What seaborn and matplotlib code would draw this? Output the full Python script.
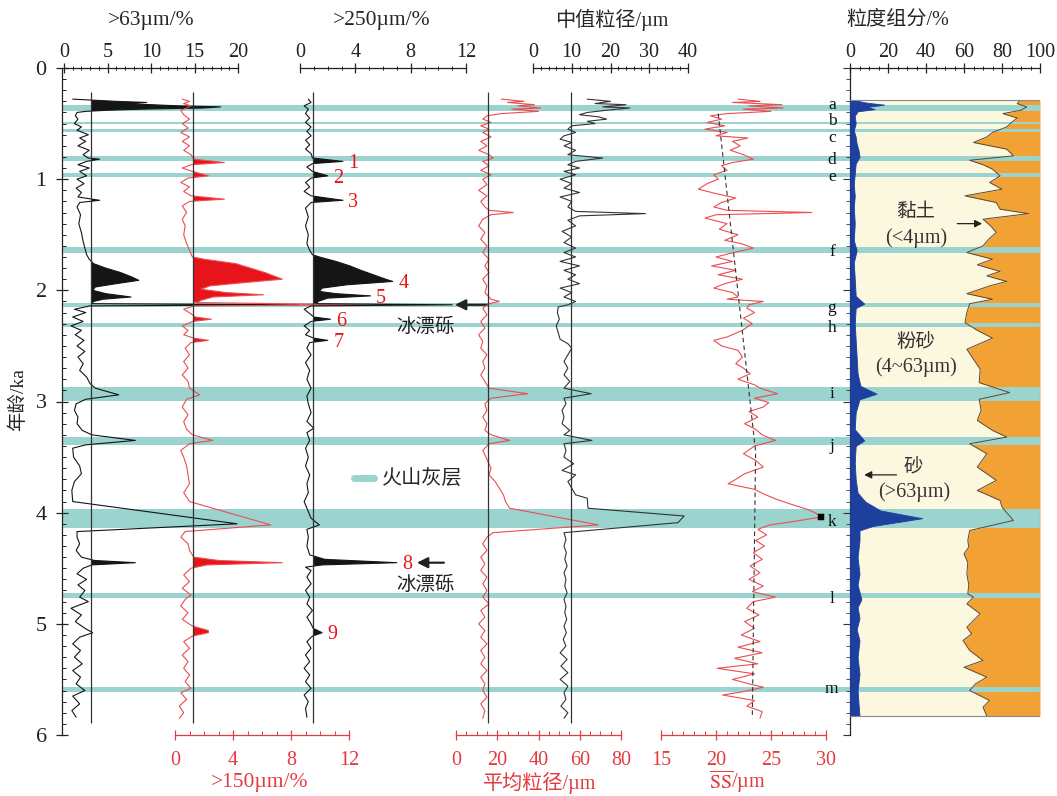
import numpy as np
import matplotlib
matplotlib.use('Agg')
import matplotlib.pyplot as plt
from matplotlib.ticker import MultipleLocator
from matplotlib.lines import Line2D
import seaborn as sns

sns.set_style('white')
plt.rcParams['font.family'] = ['Liberation Serif', 'Noto Sans CJK SC', 'DejaVu Sans']
plt.rcParams['mathtext.fontset'] = 'stix'

# ---------------- tephra layers ----------------
tephra_names = list('abcdefghijklm')
tephra_top = [0.333, 0.483, 0.551, 0.790, 0.947, 1.607, 2.117, 2.296, 2.867, 3.322, 3.970, 4.725, 5.565]
tephra_bot = [0.387, 0.506, 0.575, 0.834, 0.977, 1.667, 2.152, 2.326, 2.993, 3.394, 4.135, 4.770, 5.610]
tephra_label_shift = [-0.03, -0.015, 0.067, 0.02, 0.02, 0.02, 0.02, 0.03, 0.0, 0.04, 0.03, 0.03, 0.0]

# ---------------- IRD events ----------------
ird_windows = [(0.27, 0.41), (0.78, 0.90), (0.93, 1.00), (1.14, 1.23), (1.66, 2.125),
               (2.22, 2.30), (2.40, 2.50), (4.38, 4.52), (5.02, 5.14)]
ird_labels = ['1', '2', '3', '4', '5', '6', '7', '8', '9']
ird_ages = [0.84, 0.97, 1.19, 1.92, 2.05, 2.26, 2.45, 4.45, 5.08]

# ---------------- >63 um (%) ----------------
p63_age = [0.28, 0.29, 0.30, 0.31, 0.32, 0.33, 0.34, 0.35, 0.36, 0.37, 0.38, 0.39, 0.40,
           0.43, 0.46, 0.50, 0.53, 0.56, 0.60, 0.63, 0.66, 0.70, 0.74, 0.78, 0.81, 0.82, 0.84,
           0.87, 0.90, 0.93, 0.97, 1.00, 1.04, 1.08, 1.12, 1.16, 1.19, 1.21, 1.25, 1.32, 1.40,
           1.48, 1.56, 1.62, 1.68, 1.72, 1.76, 1.80, 1.84, 1.88, 1.91, 1.94, 1.97, 2.00, 2.03,
           2.06, 2.08, 2.10, 2.12, 2.13, 2.14, 2.17, 2.20, 2.24, 2.28, 2.32, 2.36, 2.40, 2.45,
           2.50, 2.55, 2.60, 2.66, 2.72, 2.78, 2.84, 2.88, 2.94, 2.98, 3.02, 3.08, 3.14, 3.20,
           3.26, 3.30, 3.35, 3.39, 3.42, 3.50, 3.58, 3.65, 3.72, 3.80, 3.90, 4.10, 4.17, 4.22,
           4.28, 4.34, 4.40, 4.43, 4.45, 4.47, 4.50, 4.55, 4.60, 4.65, 4.70, 4.76, 4.80, 4.86,
           4.92, 4.98, 5.04, 5.08, 5.12, 5.18, 5.24, 5.30, 5.36, 5.42, 5.48, 5.54, 5.60, 5.65,
           5.72, 5.78, 5.84]
p63_val = [1.0, 3.5, 6.0, 9.5, 7.0, 10.0, 13.0, 18.0, 16.0, 9.0, 5.0, 2.5, 1.5,
           1.3, 1.6, 1.2, 2.0, 1.5, 2.8, 1.8, 2.5, 1.6, 2.9, 2.2, 2.8, 4.1, 2.6,
           1.6, 2.9, 1.8, 2.6, 1.5, 2.3, 1.4, 2.0, 1.6, 4.1, 1.8, 1.5, 1.9, 1.7,
           2.0, 2.2, 2.4, 2.6, 2.9, 3.4, 4.8, 6.5, 7.8, 8.6, 6.0, 3.6, 3.3, 4.8,
           7.7, 4.5, 3.4, 3.2, 27.0, 3.0, 1.2, 2.5, 1.0, 2.2, 0.8, 2.0, 1.3, 2.3,
           1.5, 2.4, 1.6, 2.2, 1.8, 2.6, 3.0, 3.6, 6.3, 2.5, 1.4, 1.2, 1.6, 1.5,
           2.1, 3.2, 8.2, 2.5, 1.0, 1.1, 1.8, 2.0, 1.2, 0.9, 1.0, 19.9, 1.5, 1.5,
           1.8, 1.4, 2.0, 3.5, 8.2, 3.2, 2.2, 1.5, 2.6, 1.6, 2.4, 1.8, 2.8, 0.8,
           2.0, 1.3, 2.4, 3.3, 1.8, 1.0, 1.9, 1.2, 2.1, 1.0, 1.9, 1.4, 2.4, 1.0,
           1.8, 0.9, 1.4]
p63_base = 3.1

# ---------------- >150 um (%) ----------------
p150_age = [0.28, 0.30, 0.32, 0.34, 0.36, 0.38, 0.42, 0.46, 0.50, 0.54, 0.58, 0.62, 0.66, 0.70,
            0.74, 0.78, 0.82, 0.85, 0.87, 0.90, 0.93, 0.97, 0.99, 1.03, 1.07, 1.11, 1.15, 1.18,
            1.20, 1.24, 1.30, 1.36, 1.42, 1.50, 1.58, 1.64, 1.70, 1.72, 1.76, 1.80, 1.84, 1.88,
            1.90, 1.93, 1.96, 1.99, 2.02, 2.04, 2.06, 2.09, 2.11, 2.13, 2.14, 2.17, 2.21, 2.24,
            2.26, 2.28, 2.32, 2.36, 2.40, 2.43, 2.45, 2.47, 2.52, 2.58, 2.64, 2.70, 2.76, 2.82,
            2.88, 2.94, 2.98, 3.05, 3.12, 3.18, 3.25, 3.30, 3.35, 3.38, 3.44, 3.50, 3.58, 3.66,
            3.74, 3.82, 3.90, 4.11, 4.17, 4.22, 4.28, 4.34, 4.40, 4.43, 4.45, 4.47, 4.50, 4.56,
            4.62, 4.68, 4.74, 4.78, 4.84, 4.90, 4.96, 5.02, 5.06, 5.08, 5.11, 5.16, 5.22, 5.28,
            5.34, 5.40, 5.46, 5.52, 5.58, 5.62, 5.68, 5.74, 5.80, 5.85]
p150_val = [0.5, 1.0, 0.6, 1.1, 0.8, 0.4, 0.6, 1.0, 0.5, 0.9, 0.4, 1.0, 0.5, 1.0,
            0.6, 1.1, 1.3, 3.4, 1.1, 0.5, 1.2, 2.3, 0.9, 0.4, 1.0, 0.6, 1.1, 3.4,
            1.0, 0.5, 0.8, 0.5, 0.7, 0.6, 0.8, 1.0, 1.2, 2.0, 4.2, 5.2, 6.2, 7.0,
            7.4, 4.8, 2.4, 1.8, 3.5, 6.1, 2.6, 1.8, 1.5, 13.0, 1.3, 0.6, 1.1, 1.4,
            2.5, 1.2, 0.5, 0.9, 0.6, 1.3, 2.3, 1.1, 0.7, 1.0, 0.6, 0.9, 0.5, 0.9,
            1.0, 1.7, 0.8, 0.5, 0.9, 0.6, 0.8, 1.2, 2.6, 1.0, 0.4, 0.6, 0.8, 0.9,
            1.0, 0.6, 1.0, 6.6, 0.7, 0.4, 0.9, 1.0, 1.3, 3.0, 7.4, 2.2, 1.1, 0.6,
            1.0, 0.5, 1.1, 0.7, 0.4, 0.9, 0.5, 1.2, 2.3, 2.3, 1.2, 0.6, 1.0, 0.5,
            0.9, 0.6, 1.0, 0.7, 1.1, 0.4, 0.8, 0.3, 0.6, 0.3]
p150_base = 1.24

# ---------------- >250 um (%) ----------------
p250_age = [0.28, 0.31, 0.34, 0.37, 0.41, 0.45, 0.49, 0.53, 0.57, 0.61, 0.65, 0.69, 0.73, 0.77,
            0.81, 0.84, 0.86, 0.89, 0.93, 0.97, 0.99, 1.03, 1.07, 1.11, 1.15, 1.19, 1.21, 1.26,
            1.34, 1.42, 1.50, 1.58, 1.64, 1.68, 1.70, 1.74, 1.78, 1.82, 1.86, 1.90, 1.92, 1.95,
            1.98, 2.01, 2.03, 2.05, 2.07, 2.10, 2.12, 2.13, 2.14, 2.17, 2.21, 2.24, 2.26, 2.28,
            2.32, 2.36, 2.40, 2.43, 2.45, 2.47, 2.52, 2.58, 2.65, 2.72, 2.80, 2.88, 2.95, 3.02,
            3.10, 3.18, 3.24, 3.28, 3.35, 3.42, 3.50, 3.58, 3.66, 3.74, 3.82, 3.90, 3.96, 4.05,
            4.11, 4.15, 4.22, 4.30, 4.38, 4.42, 4.45, 4.47, 4.49, 4.52, 4.58, 4.64, 4.70, 4.76,
            4.82, 4.88, 4.94, 5.00, 5.04, 5.08, 5.11, 5.16, 5.22, 5.28, 5.34, 5.40, 5.46, 5.52,
            5.58, 5.64, 5.70, 5.76, 5.84]
p250_val = [0.6, 0.8, 0.3, 0.6, 0.4, 0.7, 0.4, 0.8, 0.5, 0.8, 0.4, 0.7, 0.4, 0.8,
            0.9, 3.1, 0.9, 0.5, 0.9, 2.0, 0.8, 0.4, 0.7, 0.3, 0.8, 3.1, 0.8, 0.4,
            0.6, 0.4, 0.6, 0.5, 0.7, 0.9, 1.4, 2.6, 3.6, 4.4, 5.3, 6.2, 6.7, 3.4,
            1.6, 1.4, 2.6, 5.1, 2.0, 1.3, 1.2, 11.0, 0.8, 0.3, 0.7, 1.0, 2.2, 0.8,
            0.3, 0.7, 0.4, 1.0, 2.0, 0.7, 0.5, 0.8, 0.4, 0.7, 0.5, 0.8, 0.5, 0.6,
            0.8, 0.5, 1.0, 0.5, 0.7, 0.4, 0.6, 0.4, 0.7, 0.5, 0.6, 0.3, 0.5, 0.8,
            1.4, 0.5, 0.6, 0.5, 0.7, 1.8, 7.0, 1.6, 0.4, 0.8, 0.5, 0.8, 0.4, 0.7,
            0.5, 0.9, 0.5, 0.8, 0.95, 1.6, 0.9, 0.5, 0.8, 0.4, 0.7, 0.3, 0.7, 0.4,
            0.8, 0.3, 0.6, 0.4, 0.5]
p250_base = 0.94

# ---------------- mean grain size (um) ----------------
mean_age = [0.28, 0.30, 0.31, 0.33, 0.34, 0.36, 0.37, 0.39, 0.41, 0.43, 0.46, 0.49, 0.52, 0.55,
            0.58, 0.62, 0.66, 0.70, 0.74, 0.78, 0.81, 0.84, 0.88, 0.92, 0.96, 1.00, 1.05, 1.10,
            1.15, 1.20, 1.25, 1.28, 1.30, 1.32, 1.36, 1.42, 1.48, 1.54, 1.60, 1.66, 1.72, 1.78,
            1.84, 1.90, 1.96, 2.02, 2.08, 2.10, 2.12, 2.16, 2.22, 2.28, 2.34, 2.40, 2.46, 2.52,
            2.58, 2.64, 2.70, 2.76, 2.82, 2.88, 2.93, 2.97, 3.02, 3.08, 3.14, 3.20, 3.26, 3.30,
            3.35, 3.38, 3.44, 3.52, 3.60, 3.66, 3.72, 3.78, 3.84, 3.90, 3.96, 4.11, 4.18, 4.22,
            4.28, 4.34, 4.40, 4.46, 4.52, 4.58, 4.64, 4.70, 4.76, 4.82, 4.88, 4.94, 5.00, 5.06,
            5.12, 5.18, 5.24, 5.30, 5.36, 5.42, 5.48, 5.54, 5.60, 5.66, 5.72, 5.78, 5.85]
mean_val = [22, 33, 25, 38, 30, 41, 27, 40, 22, 15, 13, 17, 12, 16,
            13, 17, 12, 15, 11, 16, 18, 13, 16, 12, 17, 13, 15, 11,
            15, 12, 14, 16, 27.7, 17, 13, 11, 14, 12, 15, 13, 16, 14,
            16, 13, 15, 14, 17, 21, 16, 13, 15, 12, 14, 11, 13, 12,
            15, 13, 14, 12, 14, 16, 34.8, 17, 14, 15, 13, 15, 14, 17,
            26, 16, 13, 15, 17, 16, 19, 21, 23, 24, 26, 69, 18, 15,
            13, 15, 12, 14, 12, 15, 13, 15, 13, 16, 12, 14, 11, 14,
            12, 15, 12, 14, 12, 15, 12, 14, 13, 15, 12, 14, 13]
mean_base = 15.5

# ---------------- median grain size (um) ----------------
med_age = [0.28, 0.30, 0.32, 0.33, 0.35, 0.36, 0.38, 0.40, 0.42, 0.44, 0.46, 0.48, 0.50, 0.52,
           0.55, 0.58, 0.61, 0.64, 0.67, 0.70, 0.74, 0.78, 0.81, 0.84, 0.87, 0.90, 0.93, 0.96,
           1.00, 1.04, 1.08, 1.12, 1.16, 1.20, 1.25, 1.29, 1.31, 1.33, 1.37, 1.42, 1.47, 1.52,
           1.57, 1.62, 1.66, 1.70, 1.74, 1.78, 1.82, 1.86, 1.90, 1.94, 1.98, 2.02, 2.06, 2.10,
           2.13, 2.15, 2.20, 2.26, 2.32, 2.38, 2.44, 2.48, 2.52, 2.58, 2.64, 2.70, 2.76, 2.82,
           2.88, 2.93, 2.97, 3.02, 3.08, 3.14, 3.20, 3.26, 3.30, 3.35, 3.38, 3.44, 3.50, 3.56,
           3.62, 3.66, 3.72, 3.78, 3.84, 3.87, 3.96, 4.03, 4.09, 4.18, 4.24, 4.30, 4.36, 4.42,
           4.48, 4.54, 4.60, 4.66, 4.72, 4.78, 4.84, 4.90, 4.96, 5.02, 5.08, 5.14, 5.20, 5.26,
           5.32, 5.38, 5.44, 5.50, 5.56, 5.62, 5.68, 5.74, 5.80, 5.85]
med_val = [14, 20, 16, 24, 18, 25, 19, 14, 12, 17, 19, 14, 16, 10,
           9, 11, 8, 7, 10, 8, 11, 9, 18, 11, 9, 12, 8, 11,
           7, 10, 8, 12, 7, 10, 9, 11, 29, 12, 9, 11, 7.5, 10,
           8, 11, 8, 11, 7, 12, 8, 11, 9, 12, 7, 10, 8, 11,
           9, 6.5, 6.3, 6.8, 6.0, 6.5, 7, 9, 10, 9, 8, 9, 8, 9.5,
           8, 15, 8, 8.5, 7.5, 8, 7.5, 9.5, 8, 15.2, 8, 8.5, 8, 10.5,
           7.5, 11, 9, 10, 11, 14, 14.2, 39, 37.4, 8, 8.5, 8, 8.6, 8.2,
           8.8, 8.0, 8.5, 8.2, 8.8, 8.0, 8.5, 8.2, 8.7, 8.0, 8.6, 7.8, 8.5, 7.0,
           8.8, 7.2, 9.0, 7.0, 9.0, 8.0, 8.5, 7.2, 9.0, 8.0]
med_base = 9.8

# ---------------- sortable silt mean SS (um) ----------------
ss_age = [0.28, 0.30, 0.31, 0.33, 0.34, 0.36, 0.37, 0.39, 0.41, 0.43, 0.46, 0.49, 0.52, 0.55,
          0.58, 0.61, 0.63, 0.66, 0.70, 0.74, 0.78, 0.82, 0.85, 0.88, 0.92, 0.96, 1.00, 1.04,
          1.09, 1.13, 1.17, 1.21, 1.25, 1.28, 1.30, 1.32, 1.35, 1.40, 1.45, 1.50, 1.55, 1.58,
          1.62, 1.66, 1.70, 1.74, 1.78, 1.82, 1.86, 1.90, 1.94, 1.98, 2.02, 2.06, 2.08, 2.10,
          2.13, 2.16, 2.20, 2.25, 2.30, 2.36, 2.42, 2.45, 2.50, 2.54, 2.60, 2.66, 2.70, 2.75,
          2.80, 2.85, 2.88, 2.93, 2.97, 3.01, 3.05, 3.09, 3.14, 3.20, 3.25, 3.30, 3.35, 3.40,
          3.47, 3.53, 3.59, 3.65, 3.70, 3.74, 3.79, 3.83, 3.88, 3.93, 3.97, 4.01, 4.04, 4.08,
          4.11, 4.15, 4.20, 4.25, 4.30, 4.36, 4.42, 4.48, 4.54, 4.60, 4.66, 4.71, 4.76, 4.80,
          4.86, 4.92, 4.98, 5.04, 5.10, 5.16, 5.21, 5.26, 5.31, 5.36, 5.40, 5.45, 5.50, 5.54,
          5.57, 5.61, 5.64, 5.69, 5.74, 5.79, 5.85]
ss_val = [22, 24, 21.5, 26, 23, 26.1, 22.5, 25, 21, 19.5, 20.5, 19.2, 20.8, 19.0,
          21, 20, 22.9, 21.5, 22.2, 21.3, 22.5, 23.4, 21.5, 20.5, 21, 19.8, 20.2, 19.2,
          18.4, 20, 21.8, 20.5, 19.8, 21, 28.7, 20, 19.0, 21.0, 20.3, 22.0, 20.8, 22.3,
          23.4, 21.6, 20.0, 21.5, 19.6, 21.8, 20.2, 22.4, 20.8, 19.8, 21.5, 22.0, 21.0, 24.3,
          23.0, 22.8, 23.5, 22.5, 23.3, 22.4, 21.0, 19.8, 20.5, 22.0, 22.4, 21.8, 22.5, 23.1,
          22.0, 23.5, 24.0, 25.6, 23.5, 24.8, 24.3, 23.0, 23.8, 22.6, 23.6, 24.2, 25.4, 23.5,
          22.5, 23.6, 24.3, 22.6, 21.8, 21.1, 23.5, 24.3, 25.5, 27.0, 28.3, 29.2, 29.5, 27.0,
          24.9, 23.8, 24.6, 23.6, 24.4, 23.4, 24.2, 23.1, 24.0, 23.0, 24.3, 23.3, 25.4, 23.4,
          22.8, 23.9, 22.6, 23.5, 22.3, 24.0, 22.0, 24.2, 21.7, 23.8, 20.1, 23.5, 21.5, 23.0,
          24.3, 22.5, 20.6, 23.5, 22.8, 24.2, 24.0]
ss_trend_age = [0.41, 3.45, 5.85]
ss_trend_val = [20.2, 23.6, 23.3]
ss_mark_age = [4.04]
ss_mark_val = [29.5]

# ---------------- grain-size components (%) ----------------
comp_age = [0.29, 0.32, 0.35, 0.38, 0.41, 0.45, 0.49, 0.53, 0.58, 0.62, 0.67, 0.73, 0.79, 0.83,
            0.87, 0.91, 0.97, 1.03, 1.09, 1.15, 1.21, 1.27, 1.31, 1.36, 1.42, 1.48, 1.54, 1.60,
            1.66, 1.72, 1.77, 1.83, 1.87, 1.92, 1.96, 2.03, 2.08, 2.12, 2.20, 2.29, 2.36, 2.43,
            2.53, 2.62, 2.71, 2.83, 2.92, 2.98, 3.08, 3.17, 3.26, 3.32, 3.38, 3.47, 3.59, 3.71,
            3.80, 3.89, 3.95, 4.07, 4.16, 4.25, 4.31, 4.37, 4.45, 4.55, 4.65, 4.73, 4.76, 4.82,
            4.91, 5.03, 5.09, 5.15, 5.24, 5.33, 5.39, 5.48, 5.54, 5.60, 5.69, 5.75, 5.83]
clay_pct = [10.5, 12, 7, 10, 19.5, 12, 15, 17.5, 25, 28, 35, 17.5, 14, 37,
            30, 25, 21, 26.5, 20, 39.5, 23, 21, 6, 30, 26, 23, 27, 30,
            38.5, 25, 33, 21, 28, 17.5, 26.5, 38.5, 25, 37, 38.5, 39.5, 33, 25,
            38.5, 35, 31.5, 32, 16, 32, 31, 33, 25, 17.5, 37, 28, 33, 23,
            33, 21, 20, 14, 37, 38, 37.5, 40, 38, 38.5, 37.5, 38, 35, 38.5,
            31.5, 38.5, 36, 40.5, 37, 30, 40, 28, 34, 37, 26.5, 30, 28]
sand_age = [0.29, 0.31, 0.33, 0.35, 0.37, 0.39, 0.43, 0.50, 0.56, 0.62, 0.68, 0.74, 0.80, 0.86,
            0.95, 1.05, 1.15, 1.25, 1.40, 1.55, 1.64, 1.75, 1.90, 2.05, 2.12, 2.16, 2.30, 2.45,
            2.60, 2.75, 2.86, 2.93, 2.98, 3.10, 3.25, 3.35, 3.40, 3.55, 3.70, 3.82, 3.90, 3.98,
            4.05, 4.12, 4.16, 4.25, 4.40, 4.55, 4.65, 4.78, 4.85, 4.95, 5.05, 5.15, 5.30, 5.45,
            5.60, 5.72, 5.83]
sand_pct = [3, 8, 18, 9, 13, 4, 2.5, 3, 2, 3, 3.5, 4.5, 5, 3,
            2.5, 2, 2.5, 2, 2.5, 2, 3.5, 2, 2.5, 3, 7.5, 3, 2.5, 3,
            3.5, 4, 5.5, 14, 5, 3, 2.5, 7.5, 3, 2.5, 3, 4, 8, 16,
            38, 12, 5, 5, 4, 5, 4, 6, 4, 5, 3.5, 5, 4, 5,
            4, 4.5, 5]

# ---------------- styling ----------------
TEAL = '#9bd3ce'
RED_FILL = '#e8141b'
RED_LINE = '#ec4d52'
RED_AX = '#e33b3f'
BLACK = '#151515'
CREAM = '#fcf7df'
ORANGE = '#f2a235'
BLUE = '#1d3f9e'
FS_TICK = 14.5
FS_TITLE = 15.5

W, H = 1057, 796
Y0, Y6 = 68, 735
fig = plt.figure(figsize=(W / 100, H / 100), dpi=100)


def fx(px):
    return px / W


def fy(py):
    return 1 - py / H


def new_axes(l, r, xlim):
    ax = fig.add_axes([fx(l), fy(Y6), (r - l) / W, (Y6 - Y0) / H])
    ax.set_xlim(*xlim)
    ax.set_ylim(6, 0)
    ax.patch.set_alpha(0)
    for s in ax.spines.values():
        s.set_visible(False)
    ax.set_yticks([])
    ax.tick_params(axis='y', left=False, right=False, labelleft=False)
    return ax


def style_top(ax, major, minor):
    ax.spines['top'].set_visible(True)
    ax.spines['top'].set_color('#222222')
    ax.spines['top'].set_linewidth(0.9)
    ax.xaxis.set_major_locator(MultipleLocator(major))
    ax.xaxis.set_minor_locator(MultipleLocator(minor))
    ax.tick_params(axis='x', which='both', top=True, labeltop=True, bottom=False, labelbottom=False)
    ax.tick_params(axis='x', which='major', direction='inout', length=7, width=0.9,
                   labelsize=FS_TICK, pad=1, colors='#222222')
    ax.tick_params(axis='x', which='minor', direction='inout', length=3, width=0.7, colors='#222222')


def style_bottom(ax, major, minor):
    ax.spines['bottom'].set_visible(True)
    ax.spines['bottom'].set_color(RED_AX)
    ax.spines['bottom'].set_linewidth(0.9)
    ax.xaxis.set_major_locator(MultipleLocator(major))
    ax.xaxis.set_minor_locator(MultipleLocator(minor))
    ax.tick_params(axis='x', which='both', bottom=True, labelbottom=True, top=False, labeltop=False)
    ax.tick_params(axis='x', which='major', direction='inout', length=7, width=0.9,
                   labelsize=FS_TICK, pad=8, colors=RED_AX)
    ax.tick_params(axis='x', which='minor', direction='in', length=3, width=0.7, colors=RED_AX)


def ird_mask(ages):
    a = np.asarray(ages)
    m = np.zeros(a.shape, bool)
    for lo, hi in ird_windows:
        m |= (a >= lo) & (a <= hi)
    return m


def curve(ax, ages, vals, color, lw=0.8, ls='-'):
    sns.lineplot(x=vals, y=ages, orient='y', sort=False, estimator=None, color=color,
                 lw=lw, ls=ls, ax=ax, clip_on=False)
    ax.set_xlabel('')
    ax.set_ylabel('')


def ird_fill(ax, ages, vals, base, color):
    a = np.asarray(ages)
    v = np.asarray(vals)
    ax.fill_betweenx(a, base, v, where=(v > base) & ird_mask(a), interpolate=True,
                     color=color, lw=0, clip_on=False)


# background axis with age scale and tephra bands
ax_bg = new_axes(62, 850, (0, 1))
for t, b in zip(tephra_top, tephra_bot):
    ax_bg.axhspan(t, b, color=TEAL, lw=0, zorder=0)
ax_bg.spines['left'].set_visible(True)
ax_bg.spines['left'].set_color('#222222')
ax_bg.spines['left'].set_linewidth(0.9)
ax_bg.yaxis.set_major_locator(MultipleLocator(1))
ax_bg.yaxis.set_minor_locator(MultipleLocator(0.1))
ax_bg.tick_params(axis='y', which='both', left=True, labelleft=True)
ax_bg.tick_params(axis='y', which='major', direction='inout', length=8, width=0.9,
                  labelsize=16, pad=7, colors='#222222')
ax_bg.tick_params(axis='y', which='minor', direction='in', length=3, width=0.7, colors='#222222')
ax_bg.set_xticks([])
for name, t, b, sh in zip(tephra_names, tephra_top, tephra_bot, tephra_label_shift):
    ax_bg.text(0.977, (t + b) / 2 + sh, name, transform=ax_bg.get_yaxis_transform(),
               ha='center', va='center', fontsize=12.5, color='#111111')

# >63 um
ax63 = new_axes(64, 238, (0, 20))
style_top(ax63, 5, 1)
ird_fill(ax63, p63_age, p63_val, p63_base, BLACK)
curve(ax63, p63_age, p63_val, BLACK)
ax63.vlines(p63_base, 0.22, 5.89, color='#333333', lw=0.9)

# >150 um
ax150 = new_axes(175, 349, (0, 12))
style_bottom(ax150, 4, 1)
ird_fill(ax150, p150_age, p150_val, p150_base, RED_FILL)
curve(ax150, p150_age, p150_val, RED_LINE)
ax150.vlines(p150_base, 0.22, 5.89, color='#333333', lw=0.9)

# >250 um
ax250 = new_axes(300, 466, (0, 12))
style_top(ax250, 4, 1)
ird_fill(ax250, p250_age, p250_val, p250_base, BLACK)
curve(ax250, p250_age, p250_val, BLACK)
ax250.vlines(p250_base, 0.22, 5.89, color='#333333', lw=0.9)
for lab, a in zip(ird_labels, ird_ages):
    pk = p250_val[p250_age.index(a)]
    ax250.text(pk + 0.4, a + 0.02, lab, color=RED_FILL, fontsize=14.5, ha='left', va='center')

# mean grain size
axmean = new_axes(456, 621, (0, 80))
style_bottom(axmean, 20, 5)
curve(axmean, mean_age, mean_val, RED_LINE)
axmean.vlines(mean_base, 0.22, 5.89, color='#333333', lw=0.9)

# median grain size
axmed = new_axes(533, 688, (0, 40))
style_top(axmed, 10, 2)
curve(axmed, med_age, med_val, '#333333')
axmed.vlines(med_base, 0.22, 5.89, color='#333333', lw=0.9)

# SS
axss = new_axes(661, 826, (15, 30))
style_bottom(axss, 5, 1)
curve(axss, ss_age, ss_val, RED_LINE)
curve(axss, ss_trend_age, ss_trend_val, '#333333', lw=0.8, ls=(0, (4, 3)))
sns.scatterplot(x=ss_mark_val, y=ss_mark_age, marker='s', s=18, color='black',
                edgecolor='black', ax=axss, clip_on=False, zorder=5)
axss.set_xlabel('')
axss.set_ylabel('')
axss.set_xlim(15, 30)
axss.set_ylim(6, 0)

# grain-size composition
axc = new_axes(850, 1040, (0, 100))
style_top(axc, 20, 5)
comp_a = np.asarray(comp_age)
boundary = 100 - np.asarray(clay_pct)
axc.fill_betweenx(comp_a, 0, boundary, color=CREAM, lw=0, zorder=1)
axc.fill_betweenx(comp_a, boundary, 100, color=ORANGE, lw=0, zorder=1)
for t, b in zip(tephra_top, tephra_bot):
    axc.axhspan(t, b, color=TEAL, lw=0, zorder=2)
axc.fill_betweenx(np.asarray(sand_age), 0, np.asarray(sand_pct), color=BLUE, lw=0.6,
                  edgecolor=BLUE, zorder=3)
axc.plot(boundary, comp_a, color='#5b4a32', lw=0.7, zorder=4)
axc.hlines([comp_age[0], comp_age[-1]], 0, 100, color='#8a8a8a', lw=0.8, zorder=4)
axc.vlines(100, comp_age[0], comp_age[-1], color='#8a8a8a', lw=0.8, zorder=4)
axc.spines['left'].set_visible(True)
axc.spines['left'].set_color('#222222')
axc.spines['left'].set_linewidth(0.9)
axc.yaxis.set_major_locator(MultipleLocator(1))
axc.yaxis.set_minor_locator(MultipleLocator(0.1))
axc.tick_params(axis='y', which='both', left=True, labelleft=False, direction='out', colors='#333333')
axc.tick_params(axis='y', which='major', length=5, width=0.8)
axc.tick_params(axis='y', which='minor', length=3, width=0.6)
for ax in (ax63, ax150, ax250, axmean, axmed, axc):
    ax.set_ylim(6, 0)

# axis titles
fig.text(fx(151), fy(20), '>63µm/%', ha='center', va='center', fontsize=FS_TITLE)
fig.text(fx(382), fy(20), '>250µm/%', ha='center', va='center', fontsize=FS_TITLE)
fig.text(fx(612), fy(20), '中值粒径/µm', ha='center', va='center', fontsize=FS_TITLE - 1)
fig.text(fx(898), fy(20), '粒度组分/%', ha='center', va='center', fontsize=FS_TITLE - 1)
fig.text(fx(260), fy(783), '>150µm/%', ha='center', va='center', fontsize=FS_TITLE, color=RED_AX)
fig.text(fx(540), fy(783), '平均粒径/µm', ha='center', va='center', fontsize=FS_TITLE - 1, color=RED_AX)
fig.text(fx(737), fy(782), r'$\overline{\mathrm{SS}}$/µm', ha='center', va='center',
         fontsize=FS_TITLE - 1, color=RED_AX)
fig.text(fx(18), fy(400), '年龄/ka', ha='center', va='center', rotation=90, fontsize=14)

# IRD arrows and labels
ax250.annotate('', xy=(11.0, 2.13), xytext=(13.8, 2.13),
               arrowprops=dict(arrowstyle='-|>', color='#222222', lw=1.6, mutation_scale=16),
               annotation_clip=False)
fig.text(fx(425), fy(327), '冰漂砾', ha='center', va='center', fontsize=14, color='#222222')
ax250.annotate('', xy=(8.25, 4.45), xytext=(10.6, 4.45),
               arrowprops=dict(arrowstyle='-|>', color='#222222', lw=1.6, mutation_scale=16),
               annotation_clip=False)
fig.text(fx(425), fy(585), '冰漂砾', ha='center', va='center', fontsize=14, color='#222222')

# tephra legend
ax_bg.legend(handles=[Line2D([], [], color=TEAL, lw=5)], labels=['火山灰层'],
             loc='center left', bbox_to_anchor=(fx(336), fy(480)), bbox_transform=fig.transFigure,
             frameon=False, handlelength=1.0, handletextpad=0.4, fontsize=14.5)

# composition annotations
fig.text(fx(916), fy(212), '黏土', ha='center', va='center', fontsize=14, color='#333333')
fig.text(fx(916), fy(238), '(<4µm)', ha='center', va='center', fontsize=14.5, color='#333333')
fig.text(fx(916), fy(342), '粉砂', ha='center', va='center', fontsize=14, color='#333333')
fig.text(fx(916), fy(367), '(4~63µm)', ha='center', va='center', fontsize=14.5, color='#333333')
fig.text(fx(913), fy(467), '砂', ha='center', va='center', fontsize=14, color='#333333')
fig.text(fx(914), fy(492), '(>63µm)', ha='center', va='center', fontsize=14.5, color='#333333')
axc.annotate('', xy=(71, 1.40), xytext=(55, 1.40),
             arrowprops=dict(arrowstyle='-|>', color='#222222', lw=0.9, mutation_scale=11))
axc.annotate('', xy=(6, 3.66), xytext=(26, 3.66),
             arrowprops=dict(arrowstyle='-|>', color='#222222', lw=0.9, mutation_scale=11))

fig.savefig('out.png', dpi=100)
